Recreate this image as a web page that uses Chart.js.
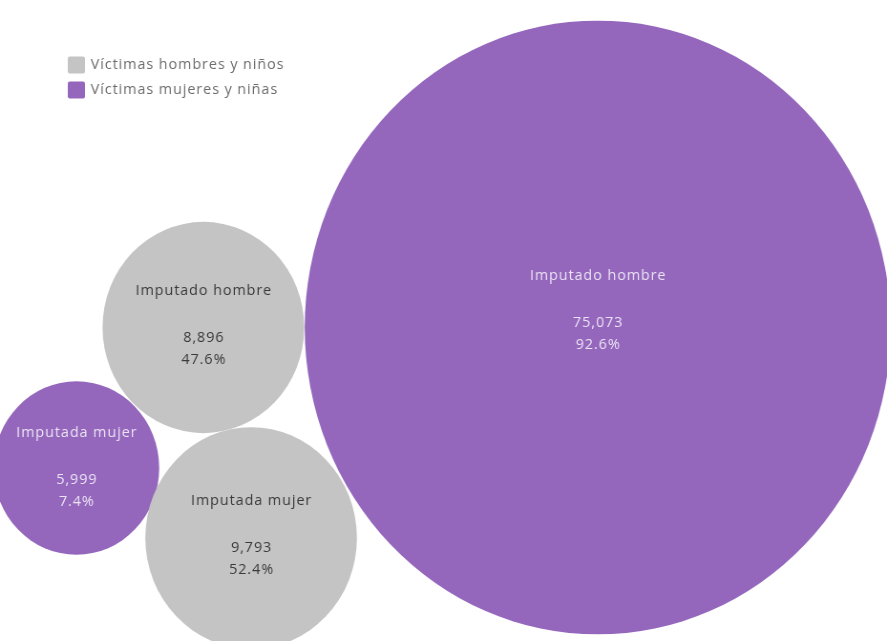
<!DOCTYPE html>
<html>
<head>
<meta charset="utf-8">
<script src="https://cdn.jsdelivr.net/npm/chart.js@4.4.1/dist/chart.umd.min.js"></script>
<style>
  html, body { margin: 0; padding: 0; background: #ffffff; overflow: hidden; }
  #wrap { width: 887px; height: 641px; position: relative; }
  #c { display: block; }
</style>
</head>
<body>
<div id="wrap"><canvas id="c" width="929" height="641" style="width:887px;height:641px;"></canvas></div>
<script>
// ---- data ----
const categories = ['Imputado hombre', 'Imputada mujer'];
const seriesNames = ['Víctimas hombres y niños', 'Víctimas mujeres y niñas'];
const menBoysValues = [8896, 9793];
const womenGirlsValues = [75073, 5999];

// ---- layout (bubble centres in plot units; packing positions only) ----
const layoutMenBoys = [{ x: 213, y: 327.5 }, { x: 263, y: 538 }];
const layoutWomenGirls = [{ x: 626, y: 327.5 }, { x: 80, y: 468 }];

const colors = ['#c4c4c4', '#9467bd'];
const textColors = ['#3a3a3a', '#ece4f4'];
const FONT = '"Open Sans", "Noto Sans", sans-serif';
const sizeK = 1.12;

function makePoints(values, layout) {
  const total = values.reduce((a, b) => a + b, 0);
  return values.map((v, i) => ({
    x: layout[i].x, y: layout[i].y,
    r: sizeK * Math.sqrt(v),
    value: v, pct: v / total * 100, cat: categories[i]
  }));
}

const datasets = [
  { label: seriesNames[0], data: makePoints(menBoysValues, layoutMenBoys), backgroundColor: colors[0], borderWidth: 0, clip: false },
  { label: seriesNames[1], data: makePoints(womenGirlsValues, layoutWomenGirls), backgroundColor: colors[1], borderWidth: 0, clip: false }
];

const labelPlugin = {
  id: 'bubbleLabels',
  afterDatasetsDraw(chart) {
    const ctx = chart.ctx;
    ctx.save();
    ctx.textAlign = 'center';
    ctx.textBaseline = 'middle';
    const ls = 1;
    if ('letterSpacing' in ctx) ctx.letterSpacing = ls + 'px';
    chart.data.datasets.forEach((ds, di) => {
      const meta = chart.getDatasetMeta(di);
      meta.data.forEach((el, i) => {
        const d = ds.data[i];
        const mid = 6 - 0.075 * d.r;
        const x = el.x + ls / 2;
        ctx.fillStyle = textColors[di];
        ctx.font = '15px ' + FONT;
        ctx.fillText(d.cat, x, el.y + mid - 35);
        ctx.fillText(d.value.toLocaleString('en-US'), x, el.y + mid + 12);
        ctx.fillText(d.pct.toFixed(1) + '%', x, el.y + mid + 34);
      });
    });
    // legend
    ctx.textAlign = 'left';
    ctx.font = '15px ' + FONT;
    chart.data.datasets.forEach((ds, di) => {
      const y = 65 + di * 25;
      ctx.fillStyle = ds.backgroundColor;
      ctx.beginPath();
      if (ctx.roundRect) ctx.roundRect(71, y - 8.5, 18, 17, 2); else ctx.rect(71, y - 8.5, 18, 17);
      ctx.fill();
      ctx.fillStyle = '#6b6b6b';
      ctx.fillText(ds.label, 95, y);
    });
    ctx.restore();
  }
};

new Chart(document.getElementById('c'), {
  type: 'bubble',
  data: { datasets },
  options: {
    responsive: false,
    devicePixelRatio: 1,
    animation: false,
    events: [],
    layout: { padding: 0, autoPadding: false },
    plugins: { legend: { display: false }, tooltip: { enabled: false } },
    scales: {
      x: { type: 'linear', min: 0, max: 929, display: false },
      y: { type: 'linear', min: 0, max: 641, reverse: true, display: false }
    }
  },
  plugins: [labelPlugin]
});
</script>
</body>
</html>
